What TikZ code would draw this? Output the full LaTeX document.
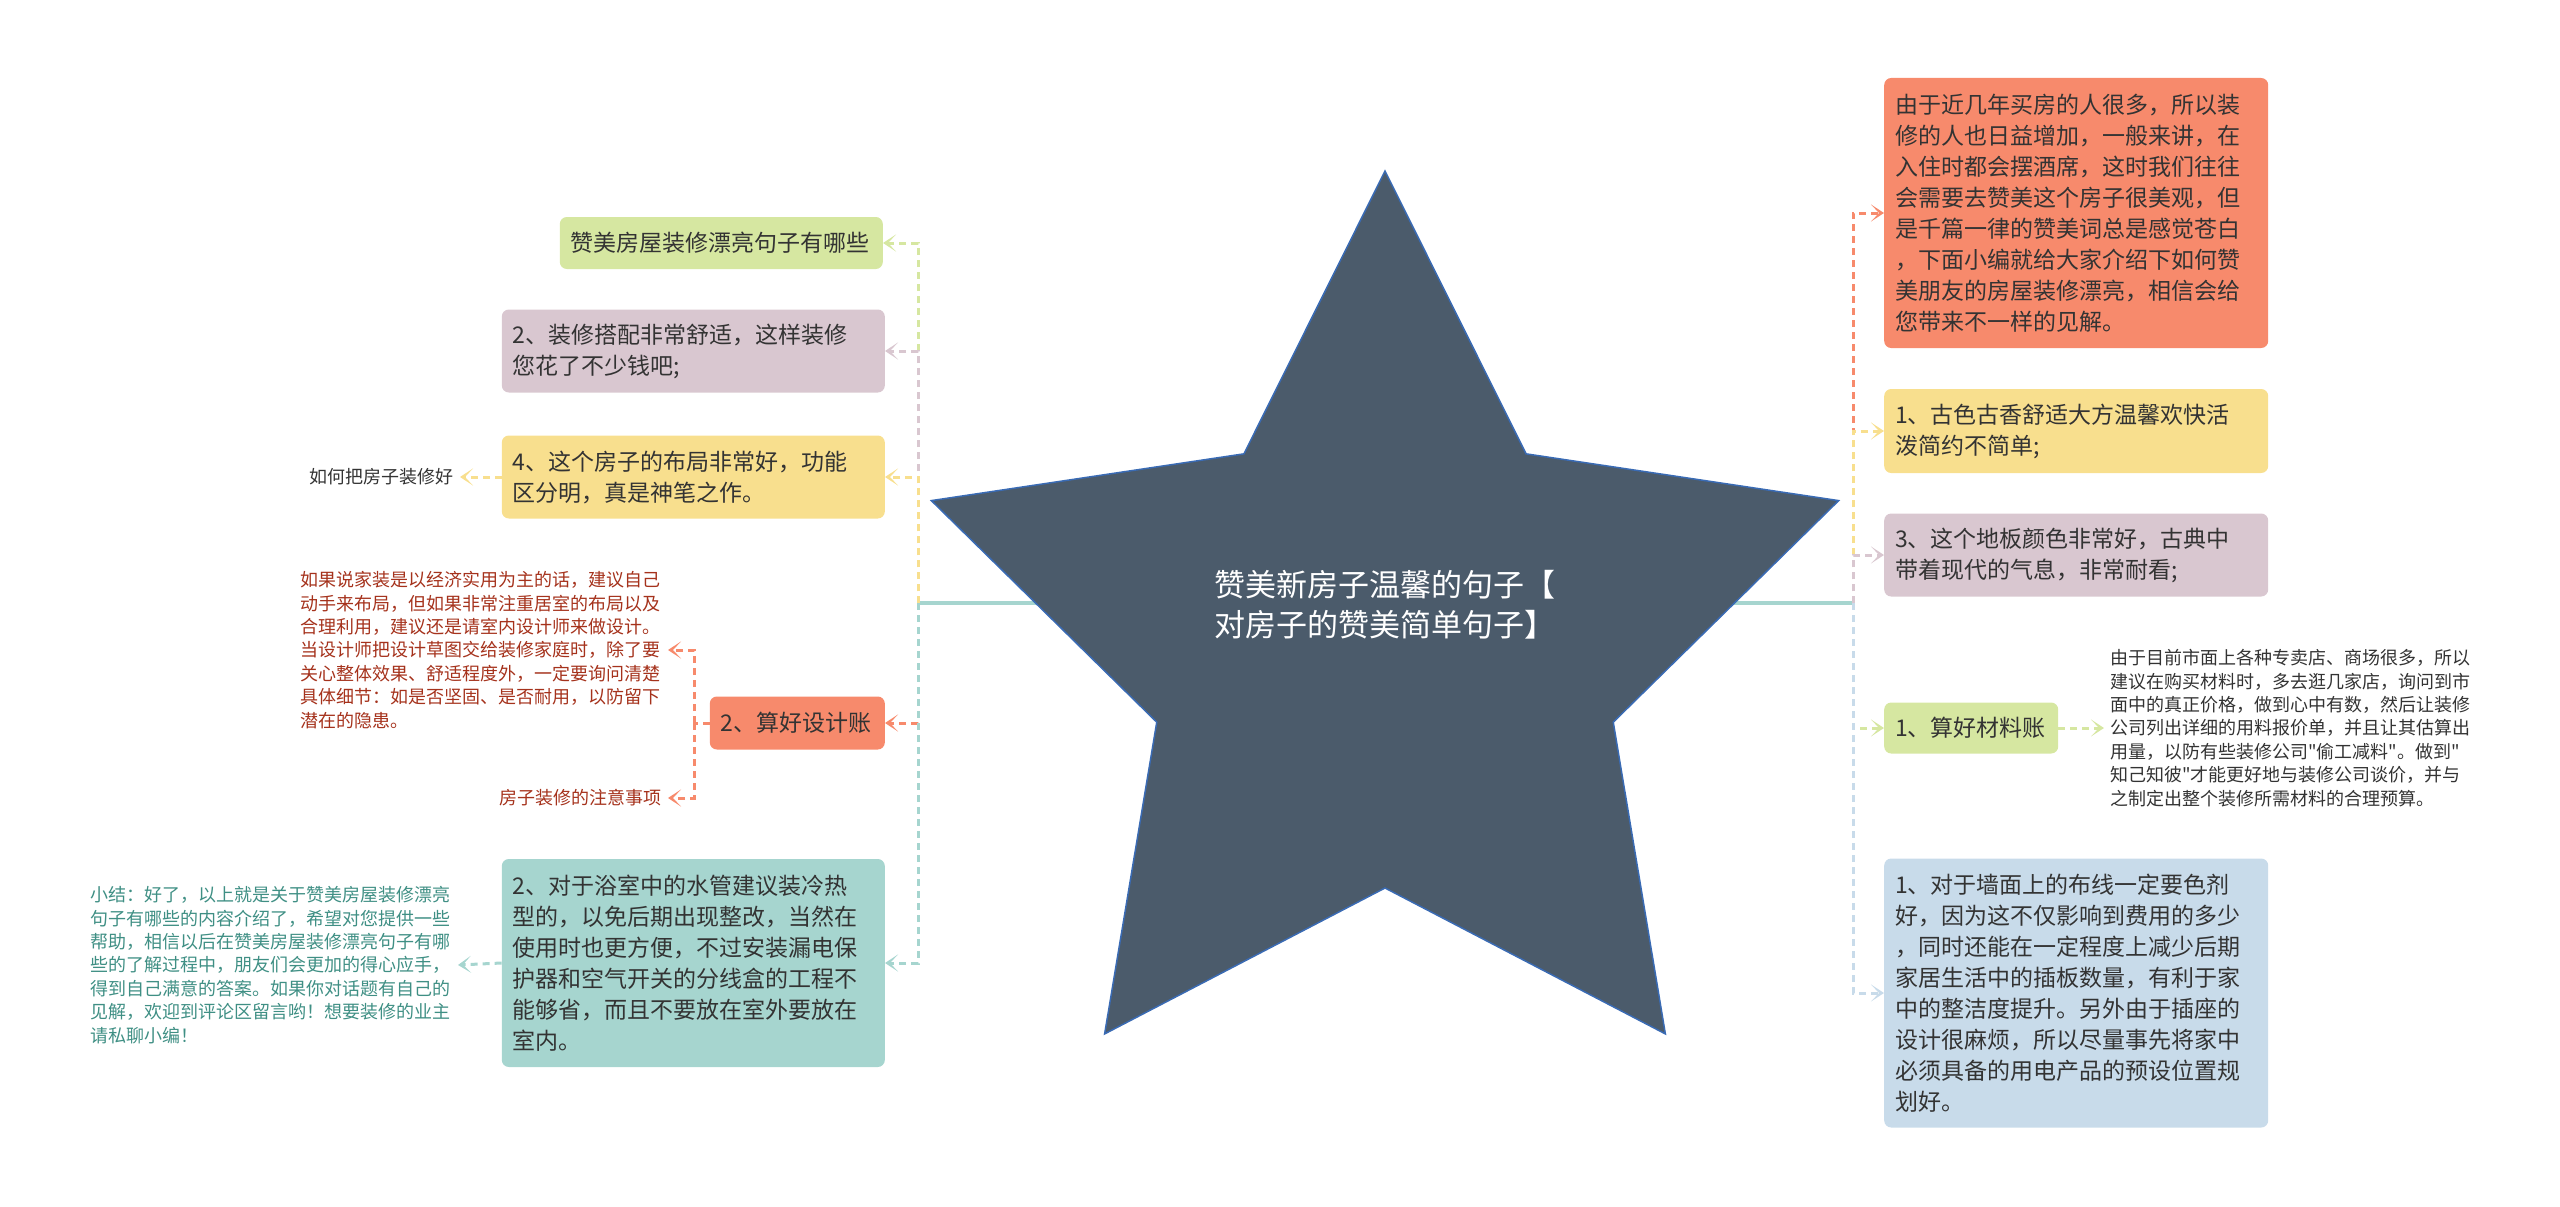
\documentclass[tikz,border=0pt]{standalone}
\usepackage{fontspec}
\setmainfont{Noto Sans CJK SC}[Ligatures=TeXOff]
\usetikzlibrary{arrows.meta}
\definecolor{cgreen}{HTML}{D6E7A1}
\definecolor{cmauve}{HTML}{D9C7D0}
\definecolor{cyellow}{HTML}{F8DF8E}
\definecolor{corange}{HTML}{F78A6C}
\definecolor{cteal}{HTML}{A6D5CF}
\definecolor{cblue}{HTML}{C8DBEA}
\definecolor{cstar}{HTML}{4B5B6B}
\definecolor{cstarline}{HTML}{3A6BB4}
\definecolor{cred}{HTML}{A5321C}
\definecolor{ctealtext}{HTML}{3F8F84}

\begin{document}
\begin{tikzpicture}[x=1pt,y=-1pt,
  box/.style={rounded corners=7pt,inner xsep=11pt,align=left,text=black!80,font=\fontsize{23}{31}\selectfont},
  note/.style={inner sep=6pt,align=left,font=\fontsize{18}{23.4}\selectfont},
  link/.style={dash pattern=on 7pt off 5pt,line width=3pt,-{Stealth[length=13pt,width=17pt,inset=8pt]}}]
  \useasboundingbox (0,0) rectangle (2560,1207);
  \coordinate (lt) at (918,603);
  \coordinate (rt) at (1853,603);
  \coordinate (dj) at (694,723);
  \draw[line width=4pt,cteal] (lt) -- (rt);
  \filldraw[fill=cstar,draw=cstarline,line width=1.5pt,shift={(1385,648)}] (-90:477)
    \foreach \k in {0,...,4}{ -- (-54+72*\k:240) -- (-18+72*\k:477)} -- cycle;
  \node[text=white,align=left,font=\fontsize{31}{40}\selectfont] (root) at (1385,605) {赞美新房子温馨的句子【\\对房子的赞美简单句子】};

  \node[box,fill=cgreen,text width=301pt,minimum height=52pt,anchor=east] (A) at (883,243) {赞美房屋装修漂亮句子有哪些};
  \node[box,fill=cmauve,text width=361pt,minimum height=83pt,anchor=east] (B) at (885,351) {2、装修搭配非常舒适，这样装修\\您花了不少钱吧;};
  \node[box,fill=cyellow,text width=361pt,minimum height=83pt,anchor=east] (C) at (885,477) {4、这个房子的布局非常好，功能\\区分明，真是神笔之作。};
  \node[box,fill=corange,text width=153pt,minimum height=53pt,anchor=east] (D) at (885,723) {2、算好设计账};
  \node[box,fill=cteal,text width=361pt,minimum height=208pt,anchor=east] (E) at (885,963) {2、对于浴室中的水管建议装冷热\\型的，以免后期出现整改，当然在\\使用时也更方便，不过安装漏电保\\护器和空气开关的分线盒的工程不\\能够省，而且不要放在室外要放在\\室内。};

  \node[box,fill=corange,text width=362pt,minimum height=270pt,anchor=west] (F) at (1884,213) {由于近几年买房的人很多，所以装\\修的人也日益增加，一般来讲，在\\入住时都会摆酒席，这时我们往往\\会需要去赞美这个房子很美观，但\\是千篇一律的赞美词总是感觉苍白\\，下面小编就给大家介绍下如何赞\\美朋友的房屋装修漂亮，相信会给\\您带来不一样的见解。};
  \node[box,fill=cyellow,text width=362pt,minimum height=84pt,anchor=west] (G) at (1884,431) {1、古色古香舒适大方温馨欢快活\\泼简约不简单;};
  \node[box,fill=cmauve,text width=362pt,minimum height=83pt,anchor=west] (H) at (1884,555) {3、这个地板颜色非常好，古典中\\带着现代的气息，非常耐看;};
  \node[box,fill=cgreen,text width=152pt,minimum height=51pt,anchor=west] (I) at (1884,728) {1、算好材料账};
  \node[box,fill=cblue,text width=362pt,minimum height=269pt,anchor=west] (J) at (1884,993) {1、对于墙面上的布线一定要色剂\\好，因为这不仅影响到费用的多少\\，同时还能在一定程度上减少后期\\家居生活中的插板数量，有利于家\\中的整洁度提升。另外由于插座的\\设计很麻烦，所以尽量事先将家中\\必须具备的用电产品的预设位置规\\划好。};

  \node[note,anchor=east,text=black!80] (tC) at (460,477) {如何把房子装修好};
  \node[note,anchor=east,text=cred,text width=361pt] (tD1) at (668,650) {如果说家装是以经济实用为主的话，建议自己\\动手来布局，但如果非常注重居室的布局以及\\合理利用，建议还是请室内设计师来做设计。\\当设计师把设计草图交给装修家庭时，除了要\\关心整体效果、舒适程度外，一定要询问清楚\\具体细节：如是否坚固、是否耐用，以防留下\\潜在的隐患。};
  \node[note,anchor=east,text=cred] (tD2) at (668,798) {房子装修的注意事项};
  \node[note,anchor=east,text=ctealtext,text width=361pt] (tE) at (458,965) {小结：好了，以上就是关于赞美房屋装修漂亮\\句子有哪些的内容介绍了，希望对您提供一些\\帮助，相信以后在赞美房屋装修漂亮句子有哪\\些的了解过程中，朋友们会更加的得心应手，\\得到自己满意的答案。如果你对话题有自己的\\见解，欢迎到评论区留言哟！想要装修的业主\\请私聊小编！};
  \node[note,anchor=west,text=black!80,text width=361pt] (tI) at (2104,728) {由于目前市面上各种专卖店、商场很多，所以\\建议在购买材料时，多去逛几家店，询问到市\\面中的真正价格，做到心中有数，然后让装修\\公司列出详细的用料报价单，并且让其估算出\\用量，以防有些装修公司"偷工减料"。做到"\\知己知彼"才能更好地与装修公司谈价，并与\\之制定出整个装修所需材料的合理预算。};

  \draw[link,cgreen] (lt) |- (A.east);
  \draw[link,cmauve] (lt) |- (B.east);
  \draw[link,cyellow] (lt) |- (C.east);
  \draw[link,corange] (lt) |- (D.east);
  \draw[link,cteal] (lt) |- (E.east);
  \draw[link,corange] (rt) |- (F.west);
  \draw[link,cyellow] (rt) |- (G.west);
  \draw[link,cmauve] (rt) |- (H.west);
  \draw[link,cgreen] (rt) |- (I.west);
  \draw[link,cblue] (rt) |- (J.west);

  \draw[link,cyellow] (C.west) -- (tC.east);
  \draw[link,corange,-] (D.west) -- (dj);
  \draw[link,corange] (dj) |- (tD1.east);
  \draw[link,corange] (dj) |- (tD2.east);
  \draw[link,cteal] (E.west) -- (tE.east);
  \draw[link,cgreen] (I.east) -- (tI.west);
\end{tikzpicture}
\end{document}
